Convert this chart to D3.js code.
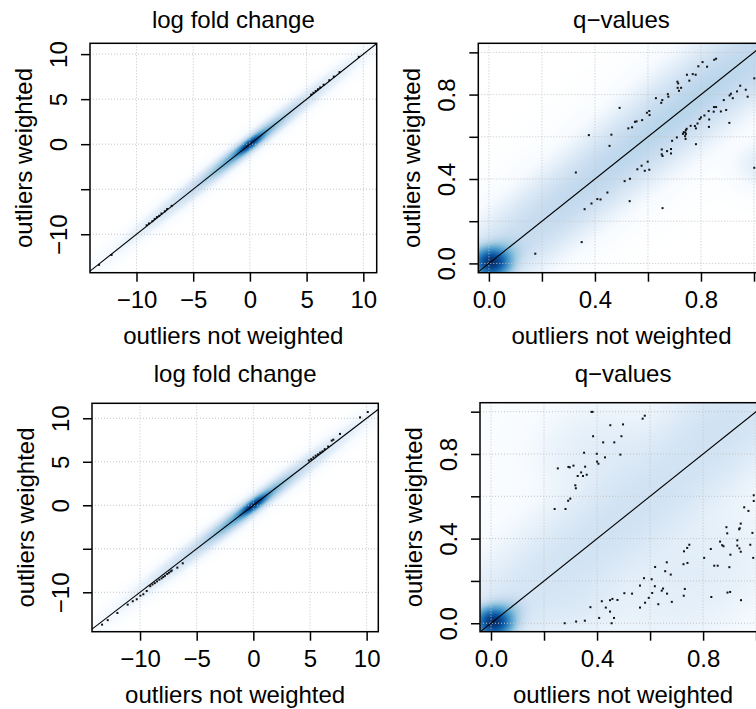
<!DOCTYPE html>
<html>
<head>
<meta charset="utf-8">
<script src="https://cdn.jsdelivr.net/npm/d3@7"></script>
<style>
    body { margin: 0; background: #ffffff; }
    svg { display: block; font-family: "Liberation Sans", Arial, Helvetica, sans-serif; }
</style>
</head>
<body>
<div id="chart"></div>
<script>
// ---------- values ----------
const panelTitles = ["log fold change", "q\u2212values", "log fold change", "q\u2212values"];
const xAxisTitle = "outliers not weighted";
const yAxisTitle = "outliers weighted";

// axis ranges (par("usr") of each panel)
const lfcTopXRange = [-14.1, 11.18];
const lfcTopYRange = [-14.27, 11.2];
const lfcBottomXRange = [-14.24, 11.03];
const lfcBottomYRange = [-14.53, 11.72];
const qTopXRange = [-0.04, 1.04];
const qTopYRange = [-0.044, 1.043];
const qBottomXRange = [-0.0415, 1.038];
const qBottomYRange = [-0.04, 1.0425];

// ticks, and which of them carry a label (R drops labels that collide)
const lfcTicks = [-10, -5, 0, 5, 10];
const lfcXLabelled = [-10, -5, 0, 5, 10];
const lfcYLabelled = [-10, 0, 5, 10];
const qTicks = [0, 0.2, 0.4, 0.6, 0.8, 1.0];
const qLabelled = [0, 0.4, 0.8];

// smoothed density, as kernel blobs: [x0, y0, sd along diagonal, sd across diagonal, weight]
const lfcTopDensity = [
    [0.0, 0.0, 0.8, 0.2, 1.0],
    [-0.3, -0.3, 2.3, 0.28, 0.16],
    [-0.8, -0.8, 5.75, 0.38, 0.02]
];
const lfcBottomDensity = [
    [0.0, 0.0, 0.85, 0.22, 1.0],
    [-0.3, -0.3, 2.4, 0.3, 0.16],
    [-0.8, -0.8, 5.9, 0.42, 0.02]
];
const qTopDensity = [
    [0.01, 0.005, 0.032, 0.032, 1.0],
    [0.025, 0.02, 0.05, 0.035, 0.12],
    [0.45, 0.45, 0.6, 0.07, 0.016],
    [0.85, 0.85, 0.3, 0.08, 0.01],
    [1.03, 0.87, 0.05, 0.05, 0.004],
    [1.03, 0.47, 0.05, 0.05, 0.002]
];
const qBottomDensity = [
    [0.01, 0.005, 0.032, 0.032, 1.0],
    [0.025, 0.02, 0.05, 0.035, 0.12],
    [0.5, 0.5, 0.65, 0.11, 0.007],
    [0.42, 0.8, 0.13, 0.13, 0.002],
    [0.75, 0.22, 0.22, 0.15, 0.002],
    [0.35, 0.08, 0.1, 0.08, 0.0015],
    [0.85, 0.98, 0.15, 0.1, 0.003],
    [0.6, 0.5, 0.4, 0.4, 0.0001]
];

// outlying points drawn by smoothScatter
const lfcTopPoints = [
    [-13.3, -13.4], [-12.2, -12.3], [-9.1, -9.0], [-8.9, -8.8], [-8.6, -8.55], [-8.4, -8.3],
    [-8.2, -8.1], [-8.0, -7.95], [-7.8, -7.7], [-7.5, -7.45], [-7.3, -7.2], [-6.9, -6.85],
    [5.4, 5.5], [5.6, 5.7], [5.8, 5.9], [6.0, 6.1], [6.2, 6.3], [6.5, 6.6], [7.0, 7.1],
    [7.4, 7.5], [7.9, 8.0], [9.6, 9.7]
];
const lfcBottomPoints = [
    [-13.35, -13.72], [-12.85, -13.2], [-12.0, -12.38], [-11.09, -11.42], [-10.64, -11.03],
    [-10.29, -10.8], [-9.97, -10.39], [-9.71, -10.23], [-9.41, -9.85], [-9.1, -9.3], [-8.9, -9.1],
    [-8.7, -8.95], [-8.5, -8.75], [-8.3, -8.55], [-8.1, -8.4], [-7.95, -8.25], [-7.8, -8.1],
    [-7.6, -7.9], [-7.45, -7.75], [-7.3, -7.6], [-7.2, -7.5], [-6.71, -7.17], [-6.23, -6.67],
    [4.9, 5.15], [5.1, 5.3], [5.3, 5.5], [5.5, 5.7], [5.7, 5.85], [5.9, 6.05], [6.1, 6.2],
    [6.3, 6.45], [6.6, 6.75], [6.92, 7.43], [7.06, 7.54], [7.65, 8.2], [9.42, 10.1], [10.1, 10.72]
];
const qTopPoints = [
    [0.377, 0.608], [0.462, 0.610], [0.455, 0.557], [0.328, 0.431], [0.447, 0.336], [0.409, 0.305],
    [0.421, 0.303], [0.387, 0.284], [0.361, 0.257], [0.350, 0.101], [0.175, 0.046], [0.493, 0.737],
    [0.806, 0.954], [0.790, 0.934], [0.823, 0.932], [0.850, 0.965], [0.857, 0.970], [0.747, 0.894],
    [0.769, 0.897], [0.780, 0.894], [0.756, 0.866], [0.711, 0.861], [0.714, 0.853], [0.712, 0.832],
    [0.725, 0.832], [0.717, 0.818], [0.675, 0.802], [0.677, 0.790], [0.630, 0.783], [0.654, 0.774],
    [0.650, 0.761], [0.596, 0.714], [0.605, 0.722], [0.606, 0.703], [0.578, 0.679], [0.557, 0.673],
    [0.551, 0.671], [0.540, 0.645], [0.526, 0.640], [1.001, 0.877], [0.948, 0.842], [0.936, 0.815],
    [0.969, 0.823], [0.976, 0.790], [0.913, 0.804], [0.908, 0.796], [0.920, 0.783], [0.886, 0.774],
    [0.849, 0.741], [0.857, 0.741], [0.829, 0.722], [0.848, 0.719], [0.875, 0.720], [0.895, 0.727],
    [0.813, 0.701], [0.800, 0.692], [0.795, 0.684], [0.831, 0.682], [0.907, 0.666], [0.787, 0.663],
    [0.777, 0.651], [0.761, 0.652], [0.830, 0.647], [0.781, 0.640], [0.746, 0.638], [0.743, 0.632],
    [0.735, 0.622], [0.741, 0.621], [0.732, 0.614], [0.743, 0.613], [0.740, 0.603], [0.742, 0.590],
    [0.709, 0.597], [0.691, 0.581], [0.781, 0.565], [0.687, 0.542], [0.652, 0.540], [0.672, 0.532],
    [0.687, 0.521], [0.652, 0.517], [0.655, 0.509], [0.599, 0.482], [0.576, 0.463], [0.560, 0.446],
    [0.588, 0.439], [0.605, 0.444], [0.532, 0.401], [0.512, 0.390], [0.531, 0.295], [0.655, 0.262],
    [1.001, 0.453]
];
const qBottomPoints = [
    [0.379, 0.999], [0.383, 0.999], [0.450, 0.936], [0.385, 0.884], [0.423, 0.855], [0.465, 0.855],
    [0.351, 0.806], [0.399, 0.801], [0.430, 0.784], [0.400, 0.764], [0.405, 0.754], [0.252, 0.732],
    [0.292, 0.739], [0.297, 0.737], [0.311, 0.745], [0.355, 0.740], [0.340, 0.713], [0.327, 0.696],
    [0.347, 0.696], [0.361, 0.702], [0.318, 0.652], [0.320, 0.638], [0.299, 0.589], [0.291, 0.579],
    [0.240, 0.540], [0.281, 0.540], [0.572, 0.967], [0.580, 0.981], [0.498, 0.940], [0.492, 0.884],
    [0.488, 0.797], [0.375, 0.076], [0.418, 0.104], [0.449, 0.109], [0.458, 0.115], [0.477, 0.110],
    [0.433, 0.074], [0.449, 0.055], [0.408, 0.025], [0.464, 0.025], [0.455, 0.000], [0.278, 0.000],
    [0.321, 0.008], [0.354, 0.012], [0.991, 0.605], [0.991, 0.578], [0.955, 0.548], [0.971, 0.531],
    [0.888, 0.454], [0.891, 0.425], [0.942, 0.471], [0.938, 0.449], [0.936, 0.444], [0.986, 0.427],
    [0.864, 0.386], [0.872, 0.369], [0.877, 0.364], [0.929, 0.392], [0.929, 0.367], [0.937, 0.354],
    [0.942, 0.338], [0.978, 0.371], [0.903, 0.324], [0.829, 0.351], [0.804, 0.309], [0.989, 0.309],
    [0.842, 0.272], [0.855, 0.272], [0.899, 0.265], [0.748, 0.371], [0.740, 0.356], [0.728, 0.340],
    [0.741, 0.285], [0.726, 0.279], [0.663, 0.288], [0.657, 0.246], [0.678, 0.230], [0.619, 0.266],
    [0.577, 0.213], [0.606, 0.208], [0.562, 0.178], [0.618, 0.175], [0.649, 0.164], [0.644, 0.154],
    [0.664, 0.140], [0.731, 0.162], [0.608, 0.143], [0.503, 0.142], [0.532, 0.140], [0.595, 0.120],
    [0.581, 0.097], [0.631, 0.090], [0.682, 0.101], [0.727, 0.130], [0.562, 0.074], [0.831, 0.124],
    [0.892, 0.145], [0.902, 0.148], [0.943, 0.109]
];

// R's blues9, ramped from white as smoothScatter does
const blues9 = ["#F7FBFF", "#DEEBF7", "#C6DBEF", "#9ECAE1", "#6BAED6", "#4292C6", "#2171B5", "#08519C", "#08306B"];

// ---------- drawing ----------
const W = 756, H = 709;

const svg = d3.select("#chart").append("svg")
    .attr("width", W)
    .attr("height", H);

const colramp = d3.scaleLinear()
    .domain(d3.range(10).map(i => i / 9))
    .range(["#FFFFFF"].concat(blues9))
    .interpolate(d3.interpolateRgb)
    .clamp(true);

class SmoothScatter {
    constructor(opts) {
        this.opts = opts;
        this.initVis();
    }

    initVis() {
        let vis = this;
        let o = vis.opts;

        vis.x = d3.scaleLinear().domain(o.xRange).range([o.box.left, o.box.left + o.box.width]);
        vis.y = d3.scaleLinear().domain(o.yRange).range([o.box.top + o.box.height, o.box.top]);

        vis.g = svg.append("g");

        vis.clipId = "clip" + o.id;
        vis.g.append("clipPath")
            .attr("id", vis.clipId)
            .append("rect")
            .attr("x", o.box.left)
            .attr("y", o.box.top)
            .attr("width", o.box.width)
            .attr("height", o.box.height);

        vis.plot = vis.g.append("g").attr("clip-path", `url(#${vis.clipId})`);

        vis.drawDensity();
        vis.updateVis();
    }

    drawDensity() {
        let vis = this;
        let o = vis.opts;
        let w = Math.ceil(o.box.width), h = Math.ceil(o.box.height);

        let canvas = document.createElement("canvas");
        canvas.width = w;
        canvas.height = h;
        let ctx = canvas.getContext("2d");
        let img = ctx.createImageData(w, h);

        // density on a pixel grid
        let dens = new Float64Array(w * h);
        let dmax = 0;
        for (let j = 0; j < h; j++) {
            let yv = vis.y.invert(o.box.top + j + 0.5);
            for (let i = 0; i < w; i++) {
                let xv = vis.x.invert(o.box.left + i + 0.5);
                let d = 0;
                o.density.forEach(c => {
                    let dx = xv - c[0], dy = yv - c[1];
                    let u = (dx + dy) / Math.SQRT2;
                    let v = (dy - dx) / Math.SQRT2;
                    d += c[4] * Math.exp(-(u * u) / (2 * c[2] * c[2]) - (v * v) / (2 * c[3] * c[3]));
                });
                dens[j * w + i] = d;
                if (d > dmax) dmax = d;
            }
        }

        // transformation = x^0.25, then map onto the colour ramp
        for (let k = 0; k < w * h; k++) {
            let t = Math.pow(dens[k] / dmax, 0.25);
            let col = d3.rgb(colramp(t));
            img.data[k * 4] = col.r;
            img.data[k * 4 + 1] = col.g;
            img.data[k * 4 + 2] = col.b;
            img.data[k * 4 + 3] = 255;
        }
        ctx.putImageData(img, 0, 0);

        vis.plot.append("image")
            .attr("x", o.box.left)
            .attr("y", o.box.top)
            .attr("width", w)
            .attr("height", h)
            .attr("preserveAspectRatio", "none")
            .attr("href", canvas.toDataURL());
    }

    updateVis() {
        let vis = this;
        let o = vis.opts;
        let b = o.box;
        let bottom = b.top + b.height;
        let fmt = o.format;

        // dotted grid
        vis.plot.selectAll(".vgrid")
            .data(o.ticks)
            .enter()
            .append("line")
            .attr("class", "vgrid")
            .attr("x1", d => vis.x(d)).attr("x2", d => vis.x(d))
            .attr("y1", b.top).attr("y2", bottom)
            .attr("stroke", "#C4C4C4")
            .attr("stroke-width", 1)
            .attr("stroke-dasharray", "1,2");
        vis.plot.selectAll(".hgrid")
            .data(o.ticks)
            .enter()
            .append("line")
            .attr("class", "hgrid")
            .attr("y1", d => vis.y(d)).attr("y2", d => vis.y(d))
            .attr("x1", b.left).attr("x2", b.left + b.width)
            .attr("stroke", "#C4C4C4")
            .attr("stroke-width", 1)
            .attr("stroke-dasharray", "1,2");

        // outlying points (pch = ".")
        vis.plot.selectAll(".pt")
            .data(o.points)
            .enter()
            .append("rect")
            .attr("class", "pt")
            .attr("x", d => vis.x(d[0]) - 1)
            .attr("y", d => vis.y(d[1]) - 1)
            .attr("width", 2)
            .attr("height", 2)
            .attr("fill", "#111");

        // abline(0, 1)
        let lo = Math.min(o.xRange[0], o.yRange[0]), hi = Math.max(o.xRange[1], o.yRange[1]);
        vis.plot.append("line")
            .attr("x1", vis.x(lo)).attr("y1", vis.y(lo))
            .attr("x2", vis.x(hi)).attr("y2", vis.y(hi))
            .attr("stroke", "#000")
            .attr("stroke-width", 1.1);

        // box
        vis.g.append("rect")
            .attr("x", b.left).attr("y", b.top)
            .attr("width", b.width).attr("height", b.height)
            .attr("fill", "none")
            .attr("stroke", "#000")
            .attr("stroke-width", 1.5);

        // axes
        let xAxis = d3.axisBottom(vis.x)
            .tickValues(o.ticks)
            .tickSize(9)
            .tickFormat(d => o.xLabelled.includes(d) ? fmt(d) : "");
        let gx = vis.g.append("g")
            .attr("transform", `translate(0,${bottom})`)
            .call(xAxis);
        gx.select(".domain").remove();
        gx.selectAll("line").attr("stroke", "#000").attr("stroke-width", 1.5);
        gx.selectAll("text")
            .attr("y", 35)
            .attr("dy", null)
            .style("font-size", "24px")
            .style("font-family", "'Liberation Sans', Arial, sans-serif")
            .attr("fill", "#000");

        let yAxis = d3.axisLeft(vis.y)
            .tickValues(o.ticks)
            .tickSize(9)
            .tickFormat(d => o.yLabelled.includes(d) ? fmt(d) : "");
        let gy = vis.g.append("g")
            .attr("transform", `translate(${b.left},0)`)
            .call(yAxis);
        gy.select(".domain").remove();
        gy.selectAll("line").attr("stroke", "#000").attr("stroke-width", 1.5);
        gy.selectAll("text")
            .attr("x", null)
            .attr("dy", null)
            .attr("transform", "translate(-23,0) rotate(-90)")
            .style("text-anchor", "middle")
            .style("font-size", "24px")
            .style("font-family", "'Liberation Sans', Arial, sans-serif")
            .attr("fill", "#000");

        // title and axis titles
        vis.g.append("text")
            .text(o.title)
            .attr("x", b.left + b.width / 2)
            .attr("y", o.titleY)
            .attr("text-anchor", "middle")
            .style("font-size", "24px");
        vis.g.append("text")
            .text(xAxisTitle)
            .attr("x", b.left + b.width / 2)
            .attr("y", bottom + 71)
            .attr("text-anchor", "middle")
            .style("font-size", "24px");
        vis.g.append("text")
            .text(yAxisTitle)
            .attr("transform", `translate(${b.left - 58},${b.top + b.height / 2}) rotate(-90)`)
            .attr("text-anchor", "middle")
            .style("font-size", "24px");
    }
}

const minus = s => s.replace("-", "\u2212");
const lfcFormat = d => minus(String(d));
const qFormat = d => d3.format(".1f")(d);

new SmoothScatter({
    id: 1, title: panelTitles[0], titleY: 28,
    box: {left: 90, top: 43.3, width: 286.7, height: 229.4},
    xRange: lfcTopXRange, yRange: lfcTopYRange,
    ticks: lfcTicks, xLabelled: lfcXLabelled, yLabelled: lfcYLabelled, format: lfcFormat,
    density: lfcTopDensity, points: lfcTopPoints
});
new SmoothScatter({
    id: 2, title: panelTitles[1], titleY: 28,
    box: {left: 478.3, top: 43.3, width: 286.3, height: 229.4},
    xRange: qTopXRange, yRange: qTopYRange,
    ticks: qTicks, xLabelled: qLabelled, yLabelled: qLabelled, format: qFormat,
    density: qTopDensity, points: qTopPoints
});
new SmoothScatter({
    id: 3, title: panelTitles[2], titleY: 381.5,
    box: {left: 92, top: 403.3, width: 286.3, height: 228.4},
    xRange: lfcBottomXRange, yRange: lfcBottomYRange,
    ticks: lfcTicks, xLabelled: lfcXLabelled, yLabelled: lfcYLabelled, format: lfcFormat,
    density: lfcBottomDensity, points: lfcBottomPoints
});
new SmoothScatter({
    id: 4, title: panelTitles[3], titleY: 381.5,
    box: {left: 480, top: 402.7, width: 286.2, height: 229},
    xRange: qBottomXRange, yRange: qBottomYRange,
    ticks: qTicks, xLabelled: qLabelled, yLabelled: qLabelled, format: qFormat,
    density: qBottomDensity, points: qBottomPoints
});
</script>
</body>
</html>
